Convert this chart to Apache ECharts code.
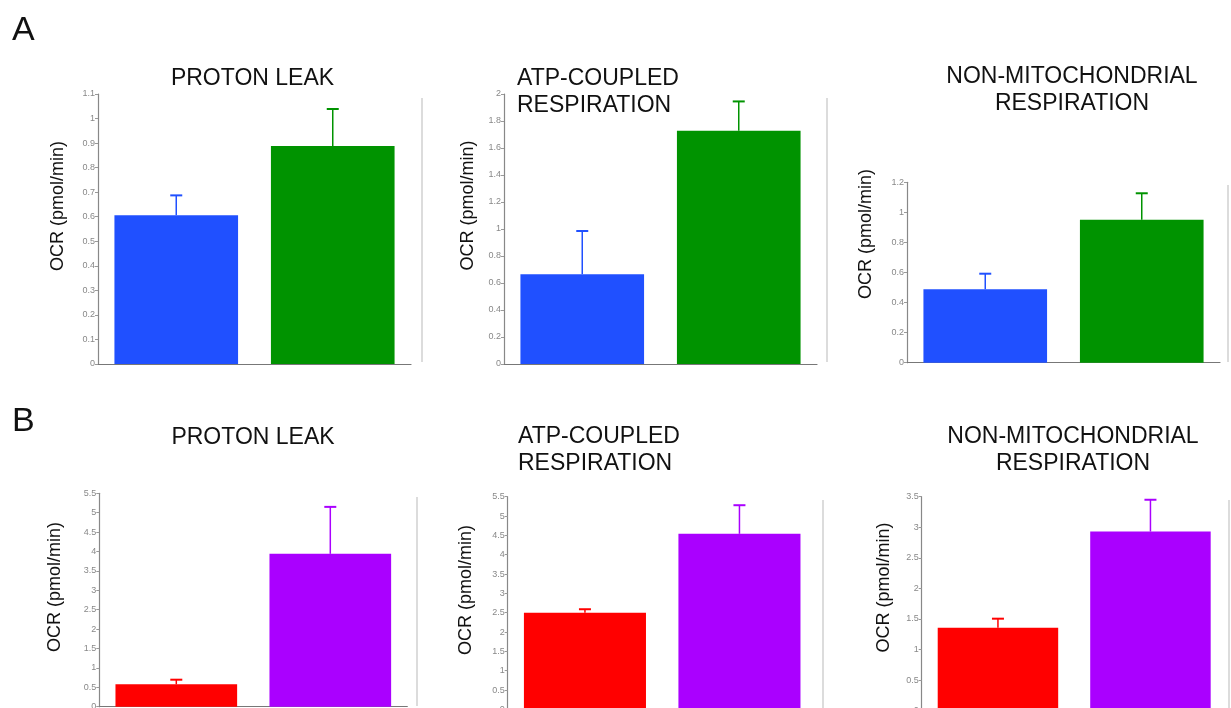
<!DOCTYPE html>
<html>
<head>
<meta charset="utf-8">
<script src="https://cdn.jsdelivr.net/npm/echarts@6/dist/echarts.min.js"></script>
<style>
html,body{margin:0;padding:0;background:#fff;}
#chart{width:1231px;height:708px;}
</style>
</head>
<body>
<div id="chart"></div>
<script>
// ---------- data ----------
const groups = ['Group 1', 'Group 2'];
const panelTitles = [
  'PROTON LEAK', 'ATP-COUPLED\nRESPIRATION', 'NON-MITOCHONDRIAL\nRESPIRATION',
  'PROTON LEAK', 'ATP-COUPLED\nRESPIRATION', 'NON-MITOCHONDRIAL\nRESPIRATION'
];
const yLabel = 'OCR (pmol/min)';
const rowLetters = ['A', 'B'];

// mean values
const meanA1 = [0.606, 0.888];
const meanA2 = [0.664, 1.728];
const meanA3 = [0.488, 0.951];
const meanB1 = [0.577, 3.94];
const meanB2 = [2.50, 4.54];
const meanB3 = [1.357, 2.93];
// error (upper whisker length)
const errA1 = [0.081, 0.151];
const errA2 = [0.321, 0.217];
const errA3 = [0.104, 0.176];
const errB1 = [0.119, 1.21];
const errB2 = [0.09, 0.74];
const errB3 = [0.147, 0.52];
// axis scales
const yMax = [1.1, 2, 1.2, 5.5, 5.5, 3.5];
const yStep = [0.1, 0.2, 0.2, 0.5, 0.5, 0.5];

const means = [meanA1, meanA2, meanA3, meanB1, meanB2, meanB3];
const errs = [errA1, errA2, errA3, errB1, errB2, errB3];

// ---------- styling / layout ----------
const colorsA = ['#2050ff', '#009300'];
const colorsB = ['#ff0000', '#aa00ff'];
const grids = [
  {left: 98, top: 94, width: 313, height: 270},
  {left: 504, top: 94, width: 313, height: 270},
  {left: 907, top: 182.3, width: 313, height: 180.4},
  {left: 99.3, top: 493.3, width: 308, height: 213.4},
  {left: 507.7, top: 496.7, width: 309, height: 212.7},
  {left: 921.7, top: 496.7, width: 305, height: 213.9}
];
const titlePos = [
  {x: 252.5, y: 65, align: 'center'},
  {x: 517, y: 65, align: 'left'},
  {x: 1072, y: 63, align: 'center'},
  {x: 253, y: 424.5, align: 'center'},
  {x: 518, y: 423.5, align: 'left'},
  {x: 1073, y: 423, align: 'center'}
];
const yLabelPos = [
  {x: 58, y: 206}, {x: 468, y: 205.5}, {x: 866.5, y: 234},
  {x: 55, y: 587}, {x: 466.5, y: 590}, {x: 884, y: 587.5}
];
const frameLines = [
  {x: 422, y1: 98, y2: 362}, {x: 827, y1: 98, y2: 362}, {x: 1228, y1: 185, y2: 362},
  {x: 417, y1: 497, y2: 706}, {x: 823, y1: 500, y2: 708}, {x: 1229, y1: 500, y2: 708}
];

const FONT = 'Liberation Sans, Arial, Helvetica, sans-serif';

const option = {
  backgroundColor: '#fff',
  animation: false,
  title: [],
  grid: [],
  xAxis: [],
  yAxis: [],
  series: [],
  graphic: []
};

rowLetters.forEach((L, i) => {
  option.title.push({
    text: L, left: 12, top: i === 0 ? 14 : 405, padding: 0,
    textStyle: {fontFamily: FONT, fontSize: 34, fontWeight: 'normal', color: '#111'}
  });
});

for (let p = 0; p < 6; p++) {
  const colors = p < 3 ? colorsA : colorsB;
  option.grid.push(Object.assign({containLabel: false, outerBoundsMode: 'none'}, grids[p]));
  option.title.push({
    text: panelTitles[p], left: titlePos[p].x, top: titlePos[p].y, padding: 0,
    textAlign: titlePos[p].align,
    textStyle: {fontFamily: FONT, fontSize: 23, fontWeight: 'normal', color: '#111', lineHeight: 27}
  });
  option.xAxis.push({
    type: 'category', gridIndex: p, data: groups,
    axisLine: {lineStyle: {color: '#777', width: 1.2}},
    axisTick: {show: false}, axisLabel: {show: false}, splitLine: {show: false}
  });
  option.yAxis.push({
    type: 'value', gridIndex: p, min: 0, max: yMax[p], interval: yStep[p],
    axisLine: {show: true, lineStyle: {color: '#888', width: 1.2}},
    axisTick: {show: true, length: 3, lineStyle: {color: '#999'}},
    axisLabel: {fontFamily: FONT, fontSize: 9, color: '#888', margin: 3},
    splitLine: {show: false}
  });
  option.series.push({
    type: 'bar', xAxisIndex: p, yAxisIndex: p, barWidth: '79%',
    data: means[p].map((v, i) => ({value: v, itemStyle: {color: colors[i]}})),
    z: 2
  });
  option.series.push({
    type: 'custom', xAxisIndex: p, yAxisIndex: p, z: 3,
    data: means[p].map((v, i) => ({value: [i, v, v + errs[p][i]], itemStyle: {color: colors[i]}})),
    renderItem: function (params, api) {
      const idx = api.value(0);
      const lo = api.coord([idx, api.value(1)]);
      const hi = api.coord([idx, api.value(2)]);
      const col = api.visual('color');
      const cw = 6;
      return {
        type: 'group',
        children: [
          {type: 'line', shape: {x1: lo[0], y1: lo[1], x2: hi[0], y2: hi[1]}, style: {stroke: col, lineWidth: 1.5}},
          {type: 'line', shape: {x1: hi[0] - cw, y1: hi[1], x2: hi[0] + cw, y2: hi[1]}, style: {stroke: col, lineWidth: 2}}
        ]
      };
    }
  });
  option.graphic.push({
    type: 'text', x: yLabelPos[p].x, y: yLabelPos[p].y, rotation: Math.PI / 2,
    style: {text: yLabel, fontFamily: FONT, fontSize: 18, fill: '#111', align: 'center', verticalAlign: 'middle'}
  });
  option.graphic.push({
    type: 'line', shape: {x1: frameLines[p].x, y1: frameLines[p].y1, x2: frameLines[p].x, y2: frameLines[p].y2},
    style: {stroke: '#dcdcdc', lineWidth: 2}, silent: true
  });
}

const chart = echarts.init(document.getElementById('chart'), null, {renderer: 'canvas'});
chart.setOption(option);
</script>
</body>
</html>
